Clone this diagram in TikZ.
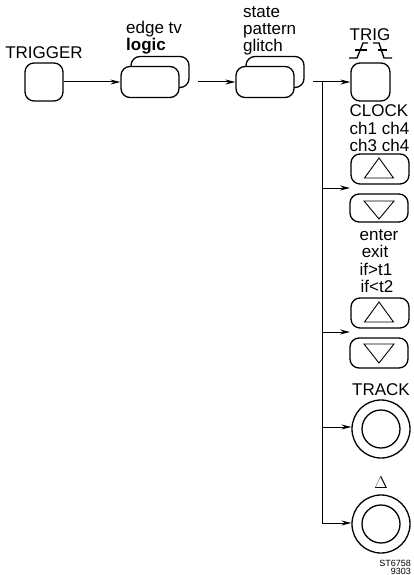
\documentclass[tikz,border=0pt]{standalone}
\usepackage{fontspec}
\setmainfont{Liberation Sans}
\usetikzlibrary{arrows.meta}
\tikzset{
  keybox/.style={draw=black, fill=white, line width=1.3pt, rounded corners=9pt, inner sep=0pt},
  keyround/.style={draw=black, fill=white, line width=1.3pt, circle, inner sep=0pt},
  lbl/.style={inner sep=0pt, align=center, font=\fontsize{17}{18}\selectfont},
  lblleft/.style={inner sep=0pt, align=left, font=\fontsize{17}{18}\selectfont},
  feed/.style={line width=1pt, -{Stealth[length=10pt,width=5pt]}},
  trunk/.style={line width=1pt},
  sign/.style={line width=0.9pt},
  edgesign/.style={line width=1.3pt}
}
\begin{document}
\begin{tikzpicture}[x=1pt, y=-1pt]
\def\keyw{58pt}
\useasboundingbox (0,0) rectangle (414,575);
% Buttons of the trigger row
\node[keybox, minimum width=38pt, minimum height=38pt] (trigger) at (44,82) {};
\node[keybox, minimum width=\keyw, minimum height=31pt] (logicback) at (160,72) {};
\node[keybox, minimum width=\keyw, minimum height=31pt] (logic) at (150,82) {};
\node[keybox, minimum width=\keyw, minimum height=31pt] (stateback) at (275,72) {};
\node[keybox, minimum width=\keyw, minimum height=31pt] (state) at (265,82) {};
\node[keybox, minimum width=39pt, minimum height=38pt] (trig) at (370.5,82) {};
% Slope keys
\node[keybox, minimum width=\keyw, minimum height=30pt] (clockup) at (380,169) {};
\node[keybox, minimum width=\keyw, minimum height=28pt] (clockdown) at (379,208) {};
\node[keybox, minimum width=\keyw, minimum height=30pt] (ifup) at (380,313) {};
\node[keybox, minimum width=\keyw, minimum height=30pt] (ifdown) at (379,353) {};
\draw[sign] (379,158) -- (393.5,178) -- (364.5,178) -- cycle;
\draw[sign] (364,201) -- (394,201) -- (379,219) -- cycle;
\draw[sign] (379,302) -- (393.5,322) -- (364.5,322) -- cycle;
\draw[sign] (364,344) -- (394,344) -- (379,363) -- cycle;
% Edge signs over the TRIG key
\draw[edgesign] (349,58) -- (357,58) -- (363,43) -- (368,43);
\draw[edgesign] (355,50) -- (367,50);
\draw[edgesign] (373,43) -- (379,43) -- (384,58) -- (392,58);
\draw[edgesign] (378,50) -- (387,50);
% Round keys
\node[keyround, minimum size=58pt] (track) at (381,429) {};
\node[keyround, minimum size=38pt] at (381,429) {};
\node[keyround, minimum size=58pt] (delta) at (381,524) {};
\node[keyround, minimum size=38pt] at (381,524) {};
% Connectors
\coordinate (gap) at (198,82);
\coordinate (out) at (313,82);
\coordinate (top) at (322,82);
\coordinate (rowa) at (322,188);
\coordinate (rowb) at (322,332);
\coordinate (rowc) at (322,427);
\coordinate (rowd) at (322,523);
\coordinate (enda) at (350,188);
\coordinate (endb) at (350,332);
\draw[feed] (trigger) -- (logic);
\draw[feed] (gap) -- (state.west |- gap);
\draw[feed] (out) -- (trig.west |- out);
\draw[trunk] (top) -- (rowd);
\draw[feed] (rowa) -- (enda);
\draw[feed] (rowb) -- (endb);
\draw[feed] (rowc) -- (track.west |- rowc);
\draw[feed] (rowd) -- (delta.west |- rowd);
% Labels
\node[lbl, anchor=base] (triggerlbl) at (44,59) {TRIGGER};
\node[lblleft, anchor=base west] (edgelbl) at (126,34) {edge tv};
\node[lblleft, anchor=base west] (logiclbl) at (126,51) {\textbf{logic}};
\node[lblleft, anchor=base west] (statelbl) at (243,18) {state};
\node[lblleft, anchor=base west] (patternlbl) at (243,35) {pattern};
\node[lblleft, anchor=base west] (glitchlbl) at (243,52) {glitch};
\node[lbl, anchor=base] (triglbl) at (370,40.5) {TRIG};
\node[lbl, anchor=base] (clocklbl) at (379,117) {CLOCK};
\node[lbl, anchor=base] (chalbl) at (379.5,134) {ch1 ch4};
\node[lbl, anchor=base] (chblbl) at (379.5,151) {ch3 ch4};
\node[lbl, anchor=base] (enterlbl) at (379,240) {enter};
\node[lbl, anchor=base] (exitlbl) at (375,257) {exit};
\node[lbl, anchor=base] (ifalbl) at (376,275) {if>t1};
\node[lbl, anchor=base] (ifblbl) at (377,292) {if<t2};
\node[lbl, anchor=base] (tracklbl) at (381,395) {TRACK};
\node[lbl, anchor=base] (deltalbl) at (381,488) {$\Delta$};
\node[inner sep=0pt, anchor=base east, font=\fontsize{9}{9}\selectfont] (codea) at (411,566) {ST6758};
\node[inner sep=0pt, anchor=base east, font=\fontsize{9}{9}\selectfont] (codeb) at (411,574) {9303};
\end{tikzpicture}
\end{document}
